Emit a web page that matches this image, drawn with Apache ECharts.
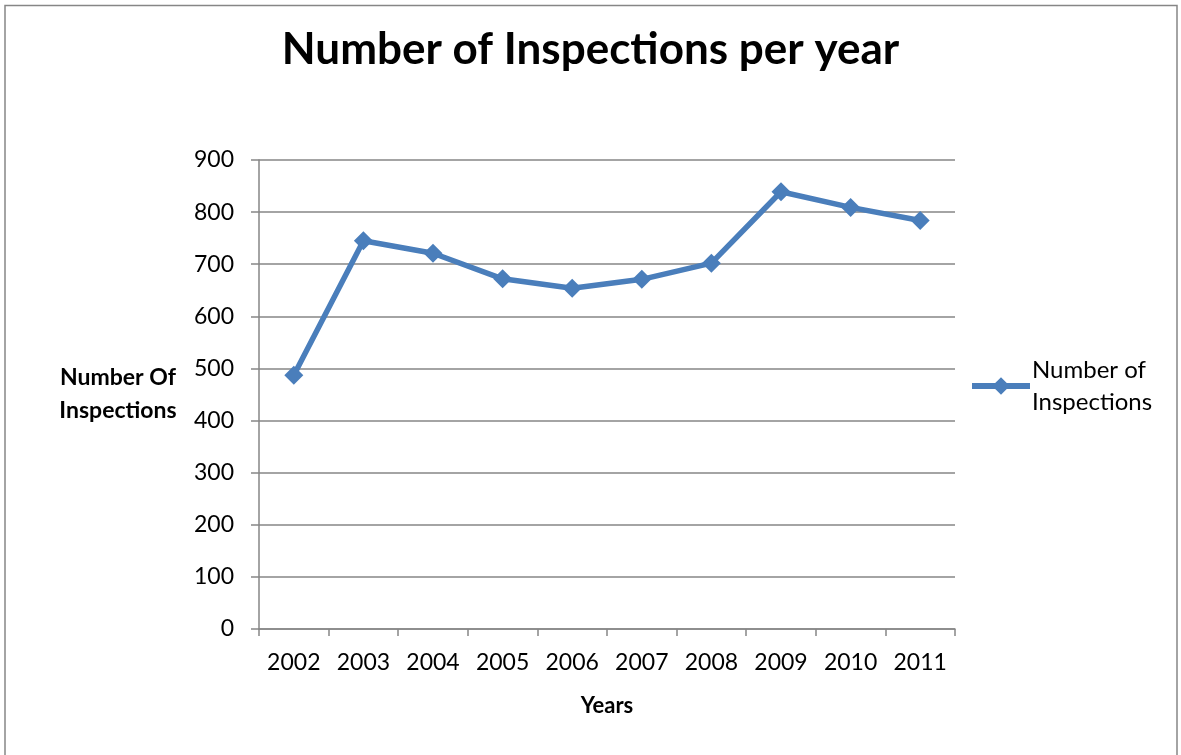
<!DOCTYPE html>
<html>
<head>
<meta charset="utf-8">
<script src="https://cdn.jsdelivr.net/npm/echarts@6/dist/echarts.min.js"></script>
<style>
  html, body { margin: 0; padding: 0; background: #fff; }
  #chart { width: 1181px; height: 755px; }
</style>
</head>
<body>
<div id="chart"></div>
<script>
// data
var years = ["2002", "2003", "2004", "2005", "2006", "2007", "2008", "2009", "2010", "2011"];
var inspections = [487, 745, 721, 672, 654, 671, 702, 839, 809, 784];
var seriesName = "Number of Inspections";

var font = "Lato, 'Open Sans', sans-serif";
var lineColor = "#4a7ebb";
var axisGray = "#868686";

var myChart = echarts.init(document.getElementById("chart"), null, { renderer: "canvas" });

var option = {
    animation: false,
    title: {
        text: "Number of Inspections per year",
        left: "center",
        top: 23,
        textStyle: { fontFamily: font, fontSize: 44, fontWeight: "bold", color: "#000" }
    },
    graphic: [{
        // chart frame (bottom edge is cut off in the picture)
        type: "polyline",
        shape: { points: [[5, 755], [5, 5.5], [1177, 5.5], [1177, 755]] },
        style: { stroke: axisGray, lineWidth: 1.5, fill: null },
        silent: true
    }],
    legend: {
        left: 964,
        top: 349,
        itemWidth: 58,
        itemHeight: 22,
        itemGap: 0,
        formatter: function () { return "Number of\nInspections"; },
        lineStyle: { width: 6 },
        textStyle: { fontFamily: font, fontSize: 24, color: "#000", lineHeight: 32, padding: [0, 0, 0, -3] },
        data: [seriesName]
    },
    grid: { left: 259, right: 226, top: 160, bottom: 126, containLabel: false },
    xAxis: {
        type: "category",
        data: years,
        boundaryGap: true,
        name: "Years",
        nameLocation: "middle",
        nameGap: 66,
        nameTextStyle: { fontFamily: font, fontSize: 22, fontWeight: "bold", color: "#000" },
        axisLine: { lineStyle: { color: axisGray, width: 1.5 } },
        axisTick: { show: true, length: 7, alignWithLabel: false, lineStyle: { color: axisGray, width: 1.5 } },
        axisLabel: { fontFamily: font, fontSize: 23, color: "#000", margin: 22 },
        splitLine: { show: false }
    },
    yAxis: {
        type: "value",
        min: 0,
        max: 900,
        interval: 100,
        name: "Number Of\nInspections",
        nameLocation: "middle",
        nameRotate: 0,
        nameGap: 141,
        nameTextStyle: { fontFamily: font, fontSize: 23, fontWeight: "bold", color: "#000", align: "center", lineHeight: 33 },
        axisLine: { show: true, lineStyle: { color: axisGray, width: 1.5 } },
        axisTick: { show: true, length: 8, inside: false, lineStyle: { color: axisGray, width: 1.5 } },
        axisLabel: { fontFamily: font, fontSize: 23, color: "#000", margin: 25 },
        splitLine: { show: true, lineStyle: { color: axisGray, width: 1.5 } }
    },
    series: [{
        name: seriesName,
        type: "line",
        data: inspections,
        symbol: "diamond",
        symbolSize: 19,
        itemStyle: { color: lineColor },
        lineStyle: { color: lineColor, width: 5.5 }
    }]
};

myChart.setOption(option);
</script>
</body>
</html>
